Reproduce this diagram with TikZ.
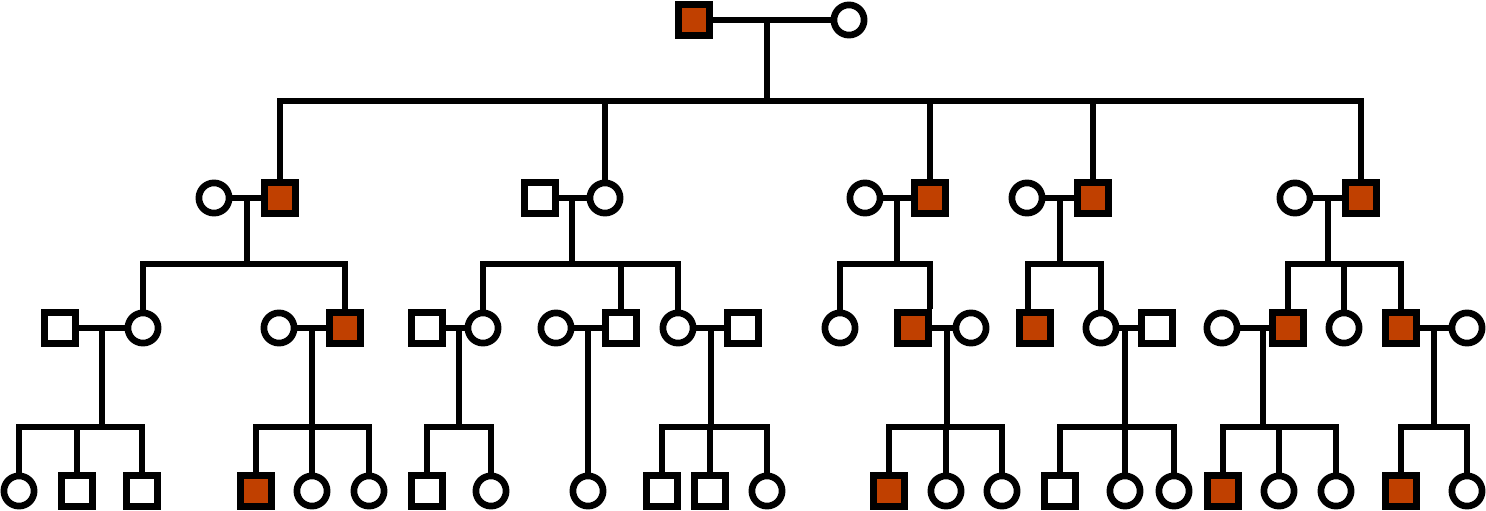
\documentclass[tikz,border=0pt]{standalone}
\usetikzlibrary{calc}
\definecolor{aff}{RGB}{192,64,0}
\tikzset{
  pline/.style={line width=6.7pt, line cap=butt},
  sib/.style={line width=6.7pt, line cap=rect},
  sq/.style={draw, line width=6.7pt, rectangle, minimum size=31.5pt, inner sep=0pt, fill=white},
  sqa/.style={sq, fill=aff},
  ci/.style={draw, line width=6.7pt, circle, minimum size=30.2pt, inner sep=0pt, fill=white}
}
\begin{document}
\begin{tikzpicture}[x=1pt,y=-1pt]
\useasboundingbox (0,0) rectangle (1486,511);
\coordinate (y1) at (0,101);
\coordinate (y2) at (0,264);
\coordinate (y3) at (0,427);
% generation 1
\node[sqa] (g1m) at (694,20) {};
\node[ci]  (g1f) at (849,20) {};
% generation 2
\node[ci]  (a1) at (214,198) {};
\node[sqa] (a2) at (280,198) {};
\node[sq]  (b1) at (540,198) {};
\node[ci]  (b2) at (605,198) {};
\node[ci]  (c1) at (865,198) {};
\node[sqa] (c2) at (930,198) {};
\node[ci]  (d1) at (1027,198) {};
\node[sqa] (d2) at (1093,198) {};
\node[ci]  (e1) at (1295,198) {};
\node[sqa] (e2) at (1361,198) {};
% generation 3
\node[sq]  (aa1) at (60,328) {};
\node[ci]  (aa2) at (143,328) {};
\node[ci]  (ab1) at (279,328) {};
\node[sqa] (ab2) at (345,328) {};
\node[sq]  (ba1) at (427,328) {};
\node[ci]  (ba2) at (483,328) {};
\node[ci]  (bb1) at (556,328) {};
\node[sq]  (bb2) at (621,328) {};
\node[ci]  (bc1) at (678,328) {};
\node[sq]  (bc2) at (743,328) {};
\node[ci]  (ca)  at (840,328) {};
\node[sqa] (cb1) at (913,328) {};
\node[ci]  (cb2) at (971,328) {};
\node[sqa] (da)  at (1035,328) {};
\node[ci]  (db1) at (1101,328) {};
\node[sq]  (db2) at (1157,328) {};
\node[ci]  (ea1) at (1222,328) {};
\node[sqa] (ea2) at (1288,328) {};
\node[ci]  (eb)  at (1344,328) {};
\node[sqa] (ec1) at (1401,328) {};
\node[ci]  (ec2) at (1467,328) {};
% generation 4
\node[ci]  (aa3) at (19,491) {};
\node[sq]  (aa4) at (77,491) {};
\node[sq]  (aa5) at (142,491) {};
\node[sqa] (ab3) at (256,491) {};
\node[ci]  (ab4) at (312,491) {};
\node[ci]  (ab5) at (369,491) {};
\node[sq]  (ba3) at (427,491) {};
\node[ci]  (ba4) at (491,491) {};
\node[ci]  (bb3) at (588,491) {};
\node[sq]  (bc3) at (662,491) {};
\node[sq]  (bc4) at (710,491) {};
\node[ci]  (bc5) at (767,491) {};
\node[sqa] (cb3) at (889,491) {};
\node[ci]  (cb4) at (946,491) {};
\node[ci]  (cb5) at (1002,491) {};
\node[sq]  (db3) at (1060,491) {};
\node[ci]  (db4) at (1125,491) {};
\node[ci]  (db5) at (1174,491) {};
\node[sqa] (ea3) at (1223,491) {};
\node[ci]  (ea4) at (1279,491) {};
\node[ci]  (ea5) at (1336,491) {};
\node[sqa] (ec3) at (1401,491) {};
\node[ci]  (ec4) at (1467,491) {};
% drop points
\coordinate (m0) at (767,20);
\coordinate (mA) at (247,198);
\coordinate (mB) at (572,198);
\coordinate (mC) at (897,198);
\coordinate (mD) at (1060,198);
\coordinate (mE) at (1328,198);
\coordinate (mAA) at (102,328);
\coordinate (mAB) at (312,328);
\coordinate (mBA) at (459,328);
\coordinate (mBB) at (588,328);
\coordinate (mBC) at (711,328);
\coordinate (mCB) at (947,328);
\coordinate (mDB) at (1125,328);
\coordinate (mEA) at (1263,328);
\coordinate (mEC) at (1434,328);
\coordinate (cbv) at (930,264);
\coordinate (dav) at (1028,264);
% generation 1 family
\draw[pline] (g1m) -- (g1f);
\draw[pline] (m0) -- (m0 |- y1);
\draw[sib] (a2 |- y1) -- (e2 |- y1);
\foreach \c in {a2,b2,c2,d2,e2} \draw[pline] (\c |- y1) -- (\c);
% generation 2 couples
\draw[pline] (a1) -- (a2);
\draw[pline] (b1) -- (b2);
\draw[pline] (c1) -- (c2);
\draw[pline] (d1) -- (d2);
\draw[pline] (e1) -- (e2);
\foreach \m in {mA,mB,mC,mD,mE} \draw[pline] (\m) -- (\m |- y2);
% generation 2 sibships
\draw[sib] (aa2 |- y2) -- (ab2 |- y2);
\draw[sib] (ba2 |- y2) -- (bc1 |- y2);
\draw[sib] (ca |- y2) -- (cbv);
\draw[sib] (dav) -- (db1 |- y2);
\draw[sib] (ea2 |- y2) -- (ec1 |- y2);
\foreach \c in {aa2,ab2,ba2,bb2,bc1,ca,db1,ea2,eb,ec1} \draw[pline] (\c |- y2) -- (\c);
\draw[pline] (cbv) -- (cbv |- cb1.north);
\draw[pline] (dav) -- (dav |- da.north);
% generation 3 couples
\draw[pline] (aa1) -- (aa2);
\draw[pline] (ab1) -- (ab2);
\draw[pline] (ba1) -- (ba2);
\draw[pline] (bb1) -- (bb2);
\draw[pline] (bc1) -- (bc2);
\draw[pline] (cb1) -- (cb2);
\draw[pline] (db1) -- (db2);
\draw[pline] (ea1) -- (ea2);
\draw[pline] (ec1) -- (ec2);
\foreach \m in {mAA,mAB,mBA,mBC,mCB,mDB,mEA,mEC} \draw[pline] (\m) -- (\m |- y3);
\draw[pline] (mBB) -- (bb3);
% generation 3 sibships
\draw[sib] (aa3 |- y3) -- (aa5 |- y3);
\draw[sib] (ab3 |- y3) -- (ab5 |- y3);
\draw[sib] (ba3 |- y3) -- (ba4 |- y3);
\draw[sib] (bc3 |- y3) -- (bc5 |- y3);
\draw[sib] (cb3 |- y3) -- (cb5 |- y3);
\draw[sib] (db3 |- y3) -- (db5 |- y3);
\draw[sib] (ea3 |- y3) -- (ea5 |- y3);
\draw[sib] (ec3 |- y3) -- (ec4 |- y3);
\foreach \c in {aa3,aa4,aa5,ab3,ab4,ab5,ba3,ba4,bc3,bc4,bc5,cb3,cb4,cb5,db3,db4,db5,ea3,ea4,ea5,ec3,ec4} \draw[pline] (\c |- y3) -- (\c);
\end{tikzpicture}
\end{document}
